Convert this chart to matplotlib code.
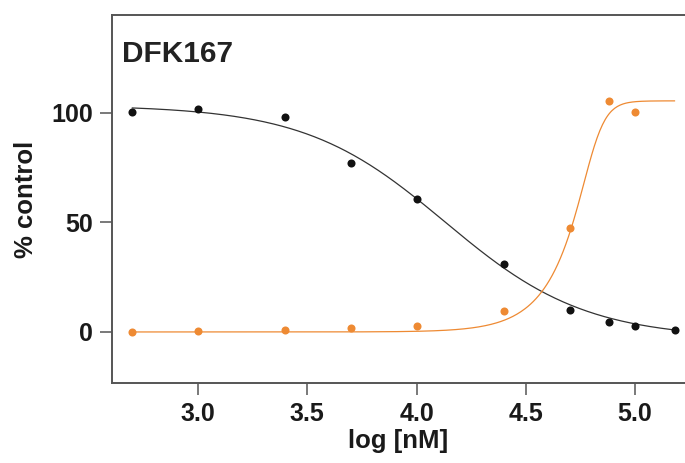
import numpy as np
import matplotlib
matplotlib.use("Agg")
import matplotlib.pyplot as plt

plt.rcParams['font.family'] = ['Liberation Sans', 'DejaVu Sans']
plt.rcParams['font.weight'] = 'bold'

# measured points (log nM vs % control)
log_conc = [2.7, 3.0, 3.4, 3.7, 4.0, 4.4, 4.7, 4.88, 5.0, 5.18]
black_vals = [100.5, 101.8, 98.3, 77.0, 60.7, 30.9, 10.0, 4.4, 2.7, 0.9]
orange_log_conc = [2.7, 3.0, 3.4, 3.7, 4.0, 4.4, 4.7, 4.88, 5.0]
orange_vals = [-0.1, 0.3, 1.1, 1.8, 2.7, 9.6, 47.3, 105.5, 100.3]

# fitted curve parameters
black_fit = dict(bottom=-3.0, top=103.5, logc=4.13, hill=1.35)
orange_fit = dict(bottom=0.0, top=105.5, logc=4.816, hill=10.4, asym=0.3)

black_col = "#111111"
orange_col = "#EE8A33"
spine_col = "#555555"


def four_pl(x, bottom, top, logc, hill):
    return bottom + (top - bottom) / (1 + 10 ** ((x - logc) * hill))


def five_pl(x, bottom, top, logc, hill, asym):
    return bottom + (top - bottom) / (1 + 10 ** ((logc - x) * hill)) ** asym


xs = np.linspace(log_conc[0], log_conc[-1], 400)

fig = plt.figure(figsize=(6.85, 4.63), dpi=100)
ax = fig.add_axes([112 / 685, 80 / 463, 573 / 685, 368 / 463])

ax.plot(xs, four_pl(xs, **black_fit), color="#333333", lw=0.9)
ax.plot(xs, five_pl(xs, **orange_fit), color=orange_col, lw=0.9)
ax.plot(log_conc, black_vals, "o", color=black_col, ms=5.8, mec="none")
ax.plot(orange_log_conc, orange_vals, "o", color=orange_col, ms=5.8, mec="none")

ax.set_xlim(2.607, 5.228)
ax.set_ylim(-23.3, 144.7)
ax.set_xticks([3.0, 3.5, 4.0, 4.5, 5.0])
ax.set_xticklabels(["3.0", "3.5", "4.0", "4.5", "5.0"])
ax.set_yticks([0, 50, 100])

ax.spines["right"].set_visible(False)
for side in ["left", "bottom", "top"]:
    ax.spines[side].set_color(spine_col)
    ax.spines[side].set_linewidth(1.4)

ax.tick_params(axis="both", direction="out", length=8.5, width=1.1,
               color=spine_col, labelsize=18, labelcolor="#1a1a1a", pad=5)

ax.set_xlabel("log [nM]", fontsize=18.5, fontweight="bold", labelpad=2,
              color="#1a1a1a")
ax.set_ylabel("% control", fontsize=18.5, fontweight="bold", labelpad=10,
              color="#1a1a1a")

ax.text(0.0175, 0.872, "DFK167", transform=ax.transAxes, fontsize=21.4,
        fontweight="bold", color="#222222", va="baseline", ha="left")

fig.savefig("out.png", dpi=100)
